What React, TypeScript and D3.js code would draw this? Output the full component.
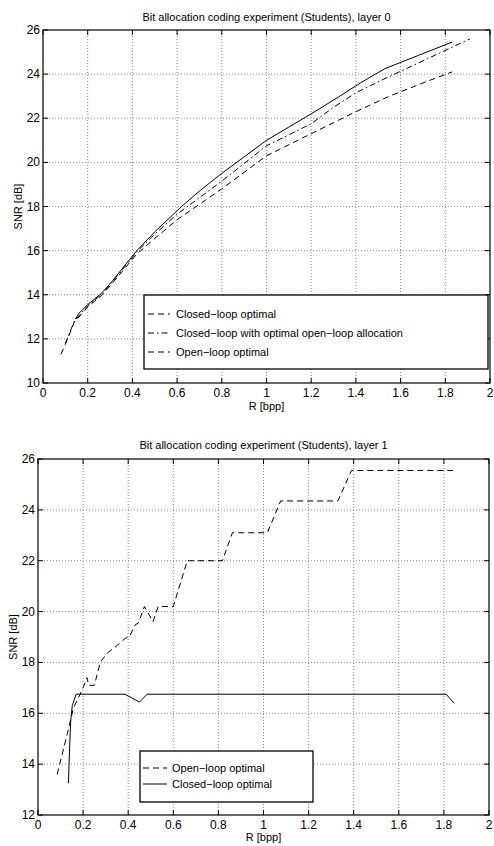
import React from 'react';
import * as d3 from 'd3';

// shared x axis (bits per pixel)
const xTicks = [0, 0.2, 0.4, 0.6, 0.8, 1, 1.2, 1.4, 1.6, 1.8, 2];

// layer 0
const layer0YTicks = [10, 12, 14, 16, 18, 20, 22, 24, 26];
const l0ClosedR = [0.145, 0.16, 0.2, 0.26, 0.3, 0.42, 0.5, 0.62, 0.7, 0.8, 0.9, 1.0, 1.1, 1.2, 1.32, 1.42, 1.53, 1.68, 1.83];
const l0ClosedS = [12.9, 13.15, 13.55, 14.05, 14.5, 16.0, 16.85, 18.0, 18.7, 19.5, 20.25, 21.0, 21.6, 22.2, 22.95, 23.6, 24.25, 24.85, 25.45];
const l0MixedR = [0.1, 0.12, 0.14, 0.2, 0.26, 0.3, 0.42, 0.5, 0.6, 0.7, 0.8, 0.9, 1.0, 1.1, 1.2, 1.3, 1.4, 1.53, 1.7, 1.91];
const l0MixedS = [11.8, 12.3, 12.8, 13.5, 14.0, 14.45, 15.95, 16.75, 17.65, 18.4, 19.15, 19.95, 20.75, 21.25, 21.75, 22.5, 23.15, 23.8, 24.6, 25.6];
const l0OpenR = [0.08, 0.1, 0.12, 0.14, 0.2, 0.26, 0.3, 0.42, 0.5, 0.6, 0.7, 0.8, 0.9, 1.0, 1.1, 1.2, 1.3, 1.4, 1.55, 1.7, 1.83];
const l0OpenS = [11.3, 11.75, 12.25, 12.75, 13.45, 13.95, 14.4, 15.85, 16.55, 17.4, 18.1, 18.8, 19.55, 20.3, 20.8, 21.3, 21.8, 22.3, 23.0, 23.6, 24.1];
const l0Legend = ['Closed\u2212loop optimal', 'Closed\u2212loop with optimal open\u2212loop allocation', 'Open\u2212loop optimal'];

// layer 1
const layer1YTicks = [12, 14, 16, 18, 20, 22, 24, 26];
const l1OpenR = [0.085, 0.13, 0.157, 0.2, 0.217, 0.225, 0.25, 0.276, 0.307, 0.342, 0.387, 0.405, 0.43, 0.445, 0.472, 0.51, 0.533, 0.6, 0.662, 0.818, 0.862, 1.017, 1.076, 1.33, 1.39, 1.84];
const l1OpenS = [13.6, 15.2, 16.2, 17.0, 17.4, 17.1, 17.1, 18.0, 18.37, 18.6, 18.95, 19.0, 19.47, 19.55, 20.2, 19.6, 20.2, 20.2, 22.0, 22.0, 23.1, 23.1, 24.35, 24.35, 25.55, 25.55];
const l1ClosedR = [0.135, 0.14, 0.145, 0.152, 0.169, 0.386, 0.45, 0.484, 1.81, 1.845];
const l1ClosedS = [13.25, 14.6, 15.7, 16.3, 16.75, 16.75, 16.44, 16.75, 16.75, 16.4];
const l1Legend = ['Open\u2212loop optimal', 'Closed\u2212loop optimal'];

const FONT = '"Liberation Sans", Arial, Helvetica, sans-serif';
const DASHED = '6,4';
const DASHDOT = '6,3,1.5,3';

type Series = { r: number[]; s: number[]; dash: string | null };
type Legend = { x: number; y: number; w: number; h: number; labels: string[]; dashes: (string | null)[]; rowY: number[]; lineX: [number, number]; textX: number };

function fmt(v: number) {
  return String(Math.round(v * 10) / 10);
}

function Panel({ box, yDomain, yTicks, title, titleY, yLabelX, xLabelY, series, legend }: {
  box: { l: number; r: number; t: number; b: number };
  yDomain: [number, number];
  yTicks: number[];
  title: string;
  titleY: number;
  yLabelX: number;
  xLabelY: number;
  series: Series[];
  legend: Legend;
}) {
  const x = d3.scaleLinear().domain([0, 2]).range([box.l, box.r]);
  const y = d3.scaleLinear().domain(yDomain).range([box.b, box.t]);
  const line = d3.line<[number, number]>().x(d => x(d[0])).y(d => y(d[1]));
  const cx = (box.l + box.r) / 2;
  const cy = (box.t + box.b) / 2;
  const tick = 5;

  return (
    <g fontFamily={FONT} fill="#000">
      {/* dotted grid */}
      {xTicks.slice(1, -1).map(t => (
        <line key={'gx' + t} x1={x(t)} x2={x(t)} y1={box.t} y2={box.b} stroke="#888" strokeWidth={1} strokeDasharray="1,2" />
      ))}
      {yTicks.slice(1, -1).map(t => (
        <line key={'gy' + t} x1={box.l} x2={box.r} y1={y(t)} y2={y(t)} stroke="#888" strokeWidth={1} strokeDasharray="1,2" />
      ))}

      {series.map((s, i) => (
        <path key={'s' + i} d={line(s.r.map((r, j) => [r, s.s[j]] as [number, number])) || ''}
          fill="none" stroke="#000" strokeWidth={1} strokeDasharray={s.dash || undefined} />
      ))}

      {/* axes box + inward ticks */}
      <rect x={box.l} y={box.t} width={box.r - box.l} height={box.b - box.t} fill="none" stroke="#000" strokeWidth={1.2} />
      {xTicks.map(t => (
        <g key={'tx' + t}>
          <line x1={x(t)} x2={x(t)} y1={box.b} y2={box.b - tick} stroke="#000" />
          <line x1={x(t)} x2={x(t)} y1={box.t} y2={box.t + tick} stroke="#000" />
          <text x={x(t)} y={box.b + 14} fontSize={12} textAnchor="middle">{fmt(t)}</text>
        </g>
      ))}
      {yTicks.map(t => (
        <g key={'ty' + t}>
          <line x1={box.l} x2={box.l + tick} y1={y(t)} y2={y(t)} stroke="#000" />
          <line x1={box.r} x2={box.r - tick} y1={y(t)} y2={y(t)} stroke="#000" />
          <text x={box.l - 3} y={y(t) + 4} fontSize={12} textAnchor="end">{t}</text>
        </g>
      ))}

      <text x={cx} y={titleY} fontSize={11} textAnchor="middle">{title}</text>
      <text x={cx} y={xLabelY} fontSize={11} textAnchor="middle">R [bpp]</text>
      <text transform={`translate(${yLabelX},${cy}) rotate(-90)`} fontSize={11} textAnchor="middle" dy="0.35em">SNR [dB]</text>

      {/* legend */}
      <rect x={legend.x} y={legend.y} width={legend.w} height={legend.h} fill="#fff" stroke="#000" strokeWidth={1.3} />
      {legend.labels.map((lab, i) => (
        <g key={'lg' + i}>
          <line x1={legend.lineX[0]} x2={legend.lineX[1]} y1={legend.rowY[i]} y2={legend.rowY[i]} stroke="#000" strokeDasharray={legend.dashes[i] || undefined} />
          <text x={legend.textX} y={legend.rowY[i] + 4} fontSize={11}>{lab}</text>
        </g>
      ))}
    </g>
  );
}

export default function App() {
  return (
    <svg width={494} height={846} style={{ position: 'absolute', left: 0, top: 0, background: '#fff' }}>
      <Panel
        box={{ l: 43, r: 490, t: 30, b: 383 }}
        yDomain={[10, 26]}
        yTicks={layer0YTicks}
        title="Bit allocation coding experiment (Students), layer 0"
        titleY={21}
        yLabelX={18}
        xLabelY={410}
        series={[
          { r: l0ClosedR, s: l0ClosedS, dash: null },
          { r: l0MixedR, s: l0MixedS, dash: DASHDOT },
          { r: l0OpenR, s: l0OpenS, dash: DASHED },
        ]}
        legend={{
          x: 144, y: 295, w: 344, h: 74,
          labels: l0Legend,
          dashes: [DASHED, DASHDOT, DASHED],
          rowY: [314, 333, 352],
          lineX: [148, 170],
          textX: 176,
        }}
      />
      <Panel
        box={{ l: 38, r: 489, t: 459, b: 815 }}
        yDomain={[12, 26]}
        yTicks={layer1YTicks}
        title="Bit allocation coding experiment (Students), layer 1"
        titleY={449}
        yLabelX={13}
        xLabelY={841}
        series={[
          { r: l1OpenR, s: l1OpenS, dash: DASHED },
          { r: l1ClosedR, s: l1ClosedS, dash: null },
        ]}
        legend={{
          x: 140, y: 751, w: 173, h: 51,
          labels: l1Legend,
          dashes: [DASHED, null],
          rowY: [768, 784],
          lineX: [143, 167],
          textX: 172,
        }}
      />
    </svg>
  );
}
